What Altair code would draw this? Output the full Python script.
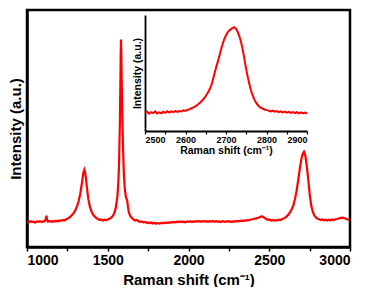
import altair as alt
import pandas as pd

# ---- data ----
main_shift = [1000, 1010, 1020, 1030, 1040, 1050, 1060, 1070, 1080, 1090, 1100, 1110, 1115, 1120, 1125,
              1130, 1140, 1150, 1160, 1170, 1180, 1190, 1200, 1210, 1220, 1230, 1240, 1250, 1260, 1270,
              1280, 1290, 1300, 1310, 1320, 1330, 1340, 1345, 1350, 1355, 1360, 1365, 1370, 1375, 1380,
              1390, 1400, 1410, 1420, 1430, 1440, 1450, 1460, 1470, 1480, 1490, 1500, 1510, 1520, 1530,
              1540, 1550, 1560, 1565, 1570, 1575, 1578, 1580, 1582, 1584, 1586, 1590, 1595, 1600, 1605,
              1610, 1615, 1620, 1625, 1630, 1640, 1650, 1660, 1670, 1680, 1690, 1700, 1710, 1720, 1730,
              1740, 1750, 1760, 1770, 1780, 1790, 1800, 1810, 1820, 1830, 1840, 1850, 1860, 1870, 1880,
              1890, 1900, 1910, 1920, 1930, 1940, 1950, 1960, 1970, 1980, 1990, 2000, 2010, 2020, 2030,
              2040, 2050, 2060, 2070, 2080, 2090, 2100, 2110, 2120, 2130, 2140, 2150, 2160, 2170, 2180,
              2190, 2200, 2210, 2220, 2230, 2240, 2250, 2260, 2270, 2280, 2290, 2300, 2310, 2320, 2330,
              2340, 2350, 2360, 2370, 2380, 2390, 2400, 2410, 2420, 2430, 2440, 2450, 2460, 2470, 2480,
              2490, 2500, 2510, 2520, 2530, 2540, 2550, 2560, 2570, 2580, 2590, 2600, 2610, 2620, 2630,
              2640, 2650, 2660, 2670, 2680, 2690, 2700, 2705, 2710, 2715, 2720, 2725, 2730, 2740, 2750,
              2760, 2770, 2780, 2790, 2800, 2810, 2820, 2830, 2840, 2850, 2860, 2870, 2880, 2890, 2900,
              2910, 2920, 2930, 2940, 2950, 2960, 2970, 2980, 2990, 3000]
main_intensity = [10.8, 10.4, 10.9, 10.6, 10.7, 10.3, 10.8, 10.6, 10.9, 10.5, 10.8, 10.9, 11.5, 13.2, 11.4,
                  10.7, 11.0, 10.6, 10.9, 10.7, 11.1, 10.8, 11.2, 11.0, 11.4, 11.2, 11.6, 11.9, 12.3, 12.9,
                  13.6, 14.4, 15.6, 17.2, 19.4, 22.6, 27.0, 29.6, 31.6, 32.6, 31.4, 29.0, 25.8, 22.8, 20.2,
                  16.8, 14.9, 13.6, 12.8, 12.2, 11.8, 11.4, 11.6, 11.2, 11.5, 11.3, 11.6, 11.9, 12.3, 13.0,
                  14.2, 16.6, 21.5, 26.5, 35.0, 52.0, 68.0, 80.0, 87.5, 82.0, 72.0, 56.0, 41.0, 30.5, 25.0,
                  22.0, 20.5, 19.8, 17.0, 14.8, 13.0, 12.2, 11.6, 11.2, 11.4, 10.9, 10.6, 10.8, 10.4, 10.6,
                  10.2, 10.4, 10.0, 10.3, 9.9, 10.2, 9.8, 10.1, 9.9, 10.2, 10.0, 10.3, 10.1, 10.4, 10.2,
                  10.5, 10.3, 10.6, 10.4, 10.7, 10.5, 10.8, 10.5, 10.7, 10.4, 10.8, 10.6, 10.9, 10.5, 10.8,
                  10.6, 11.0, 10.7, 10.9, 10.6, 11.0, 10.7, 10.9, 10.6, 10.9, 10.7, 11.0, 10.6, 10.9, 10.7,
                  10.8, 10.5, 10.9, 10.7, 10.6, 10.9, 10.7, 10.8, 10.5, 10.9, 10.7, 11.0, 10.8, 11.1, 10.9,
                  11.2, 11.0, 11.3, 11.2, 11.5, 11.6, 11.8, 11.9, 12.1, 12.3, 12.6, 12.9, 12.8, 12.3, 11.9,
                  11.5, 11.6, 11.2, 11.4, 11.1, 11.3, 11.2, 11.5, 11.4, 11.8, 12.0, 12.5, 13.0, 13.8, 14.8,
                  16.0, 17.8, 20.5, 24.0, 28.5, 33.5, 37.5, 38.8, 39.6, 40.2, 39.5, 38.0, 35.5, 29.5, 22.5,
                  17.5, 14.8, 13.2, 12.4, 11.9, 11.7, 11.4, 11.6, 11.3, 11.5, 11.2, 11.5, 11.3, 11.6, 11.4,
                  11.7, 11.8, 12.0, 12.2, 12.4, 12.3, 12.0, 11.8, 11.4, 11.2]

inset_shift = [2500, 2505, 2510, 2515, 2520, 2525, 2530, 2535, 2540, 2545, 2550, 2555, 2560, 2565, 2570,
               2575, 2580, 2585, 2590, 2595, 2600, 2605, 2610, 2615, 2620, 2625, 2630, 2635, 2640, 2645,
               2650, 2655, 2660, 2665, 2670, 2675, 2680, 2685, 2690, 2695, 2700, 2705, 2710, 2715, 2720,
               2725, 2730, 2735, 2740, 2745, 2750, 2755, 2760, 2765, 2770, 2775, 2780, 2785, 2790, 2795,
               2800, 2805, 2810, 2815, 2820, 2825, 2830, 2835, 2840, 2845, 2850, 2855, 2860, 2865, 2870,
               2875, 2880, 2885, 2890, 2895, 2900]
inset_intensity = [15.5, 16.8, 14.9, 16.2, 15.4, 16.9, 15.1, 16.0, 15.3, 16.6, 15.6, 17.0, 15.8, 16.9, 16.2,
                   17.4, 16.5, 17.2, 16.8, 17.9, 17.4, 18.2, 18.8, 19.6, 20.4, 21.5, 22.6, 24.2, 25.8, 27.8,
                   30.2, 33.0, 36.2, 40.5, 47.5, 54.0, 60.0, 66.5, 73.0, 78.5, 82.5, 85.5, 87.2, 88.5, 89.5,
                   88.0, 84.5, 79.5, 72.5, 63.0, 53.0, 44.5, 37.0, 31.5, 27.0, 24.0, 21.8, 20.2, 19.4, 18.5,
                   18.0, 17.6, 16.9, 17.5, 16.6, 17.2, 16.3, 17.0, 16.1, 16.8, 15.9, 16.6, 15.7, 16.4, 15.5,
                   16.3, 15.2, 16.0, 15.4, 15.9, 15.1]

main_tick_values = [1000, 1250, 1500, 1750, 2000, 2250, 2500, 2750, 3000]
inset_tick_values = [2500, 2550, 2600, 2650, 2700, 2750, 2800, 2850, 2900]

W, H = 323, 237
FONT = "Liberation Sans"

main_df = pd.DataFrame({"shift": main_shift, "intensity": main_intensity})
inset_df = pd.DataFrame({"shift": inset_shift, "intensity": inset_intensity})

main = alt.Chart(main_df).mark_line(color="#ff0000", strokeWidth=2.2, clip=True).encode(
    x=alt.X("shift:Q",
            scale=alt.Scale(domain=[1000, 3000], nice=False, zero=False),
            axis=alt.Axis(orient="bottom", values=main_tick_values, format="d",
                          labelExpr="datum.value % 500 === 0 ? datum.label : ''",
                          labelOverlap=False, tickSize=4, tickWidth=1.5, domainWidth=2.5,
                          labelFontSize=14, labelPadding=2,
                          title="Raman shift (cm⁻¹)", titleFontSize=15, titlePadding=5)),
    y=alt.Y("intensity:Q",
            scale=alt.Scale(domain=[0, 100], nice=False),
            axis=alt.Axis(orient="left", labels=False, ticks=False, domainWidth=2.5,
                          title="Intensity (a.u.)", titleFontSize=15, titlePadding=4)),
)

inset = alt.Chart(inset_df).mark_line(color="#ff0000", strokeWidth=2.0).encode(
    x=alt.X("shift:Q",
            scale=alt.Scale(domain=[2500, 2900], range=[118, 280], nice=False, zero=False),
            axis=alt.Axis(orient="bottom", offset=-116, values=inset_tick_values, format="d",
                          labelExpr="datum.value % 100 === 0 ? datum.label : ''",
                          labelOverlap=False, tickSize=3, tickWidth=1.2, domainWidth=1.8,
                          labelFontSize=9, labelPadding=1,
                          title="Raman shift (cm⁻¹)", titleFontSize=10.5, titlePadding=1)),
    y=alt.Y("intensity:Q",
            scale=alt.Scale(domain=[0, 100], range=[121, 5], nice=False),
            axis=alt.Axis(orient="left", offset=-118, labels=False, ticks=False, domainWidth=1.8,
                          title="Intensity (a.u.)", titleFontSize=10.5, titlePadding=3)),
)

chart = (
    alt.layer(main, inset)
    .resolve_scale(x="independent", y="independent")
    .properties(width=W, height=H, padding={"left": 0, "top": 2, "right": 2, "bottom": 0})
    .configure_view(stroke="black", strokeWidth=2.5)
    .configure_axis(grid=False, domainColor="black", tickColor="black",
                    labelColor="black", titleColor="black",
                    labelFont=FONT, titleFont=FONT,
                    labelFontWeight="bold", titleFontWeight="bold")
)

chart.save("out.html", embed_options={"renderer": "svg", "actions": False})
